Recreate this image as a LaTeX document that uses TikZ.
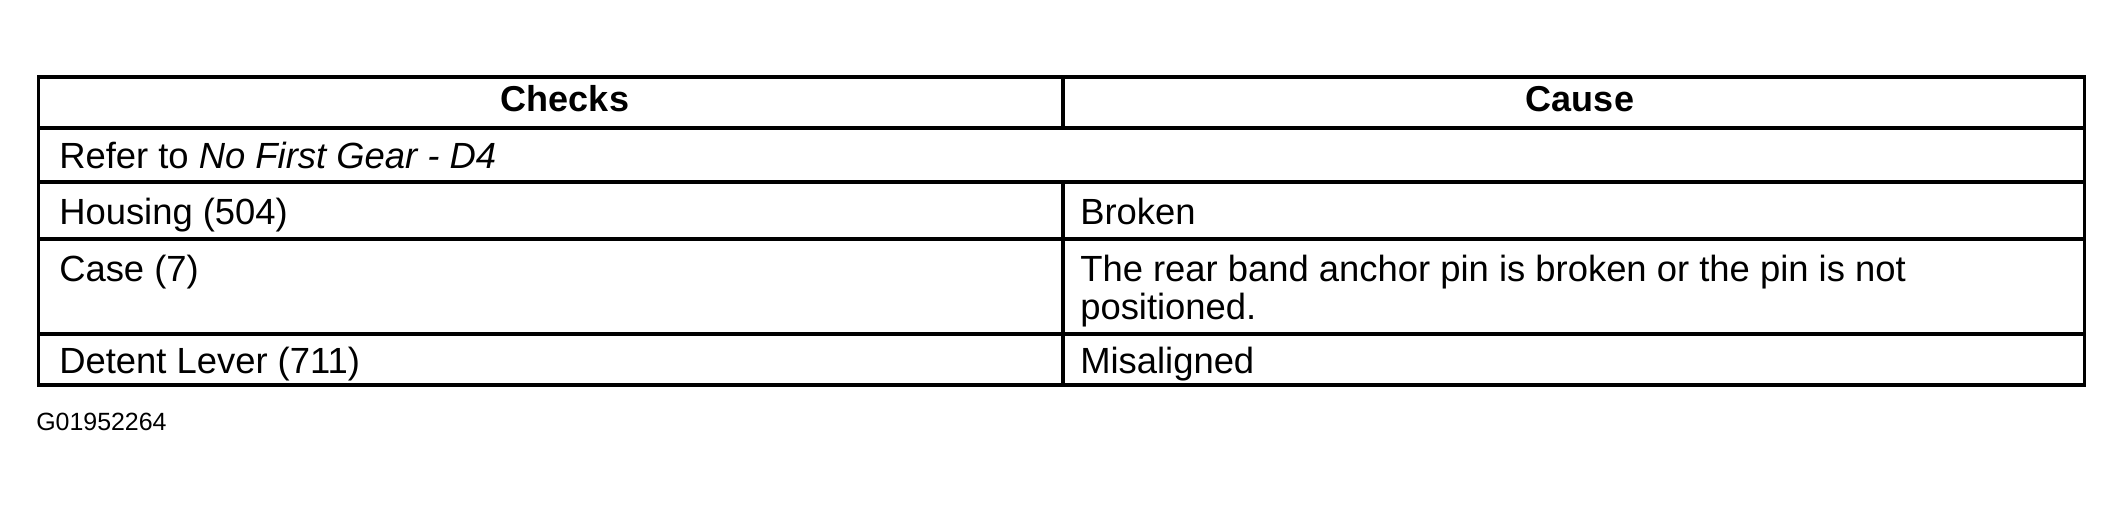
\documentclass[tikz,border=0pt]{standalone}
\usepackage{fontspec}
\setmainfont{Liberation Sans}
\begin{document}
\begin{tikzpicture}[x=0.75pt,y=0.75pt,yscale=-1,xscale=1]
\useasboundingbox (0,0) rectangle (2124,506);
\tikzset{cell/.style={anchor=base west,inner sep=0pt,font=\fontsize{27.3}{28.5}\selectfont,align=left},
  head/.style={anchor=base,inner sep=0pt,font=\fontsize{27}{28.5}\selectfont\bfseries},
  rule/.style={line width=2.6pt}}

%Shape: Table frame
\draw [rule] (38.6,77) rectangle (2084.7,385) ;
%Straight Lines (rows)
\draw [rule] (38.6,128) -- (2084.7,128) ;
\draw [rule] (38.6,182) -- (2084.7,182) ;
\draw [rule] (38.6,239) -- (2084.7,239) ;
\draw [rule] (38.6,334) -- (2084.7,334) ;
%Straight Lines (column)
\draw [rule] (1063,77) -- (1063,128) ;
\draw [rule] (1063,182) -- (1063,385) ;

% Text Node
\draw (565,112) node (checks) [head] {Checks};
% Text Node
\draw (1580,112) node (cause) [head] {Cause};
% Text Node
\draw (59,168.7) node (refer) [cell] {Refer to \textit{No First Gear - D4}};
% Text Node
\draw (59,224) node (housing) [cell] {Housing (504)};
% Text Node
\draw (1080,224) node (broken) [cell] {Broken};
% Text Node
\draw (59,281) node (case) [cell] {Case (7)};
% Text Node (base = last line)
\draw (1080,319) node (pin) [cell] {The rear band anchor pin is broken or the pin is not\\positioned.};
% Text Node
\draw (59,373) node (detent) [cell] {Detent Lever (711)};
% Text Node
\draw (1080,373) node (misaligned) [cell] {Misaligned};
% Text Node
\draw (36,430) node (fig) [anchor=base west,inner sep=0pt,font=\fontsize{18.7}{20}\selectfont] {G01952264};

\end{tikzpicture}
\end{document}
